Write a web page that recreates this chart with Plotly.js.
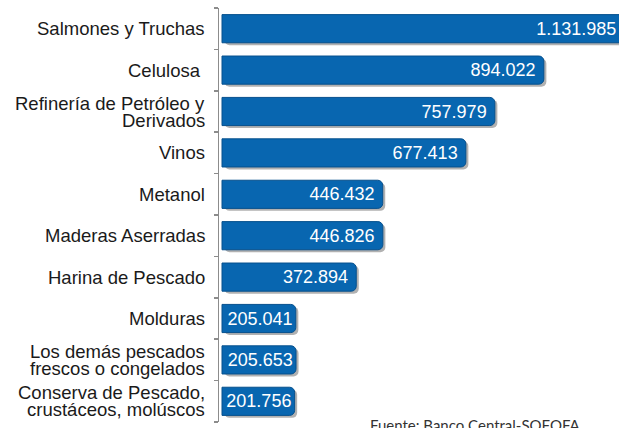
<!DOCTYPE html>
<html>
<head>
<meta charset="utf-8">
<script src="https://cdn.plot.ly/plotly-3.0.1.min.js"></script>
<style>
  html, body { margin: 0; padding: 0; background: #ffffff; overflow: hidden; }
  #chart { width: 619px; height: 428px; }
</style>
</head>
<body>
<div id="chart"></div>
<script>
// ---- Data ----
const categories = [
  "Salmones y Truchas",
  "Celulosa\u00a0",
  "Refinería de Petróleo y<br>Derivados",
  "Vinos",
  "Metanol",
  "Maderas Aserradas",
  "Harina de Pescado",
  "Molduras",
  "Los demás pescados<br>frescos o congelados",
  "Conserva de Pescado,<br>crustáceos, molúscos"
];
const values = [1131985, 894022, 757979, 677413, 446432, 446826, 372894, 205041, 205653, 201756];
const sourceNote = "Fuente: Banco Central-SOFOFA";

// ---- Chart ----
const idx = categories.map((_, i) => i);
const barWidth = 0.68;
const xRange = [-8333, 1102778];

// label padding inside the bar end (bars running past the visible range get a wider pad)
const textTemplates = values.map(v =>
  v > xRange[1] ? '%{x:,d}\u00a0\u00a0' : (v > 300000 ? '%{x:,d}\u00a0' : '%{x:,d}')
);

const shadow = {
  type: 'bar',
  orientation: 'h',
  y: idx,
  x: values,
  base: 7000,
  width: barWidth,
  offset: -barWidth / 2 + 0.06,
  marker: { color: 'rgba(70,70,70,0.42)', cornerradius: 5, line: { width: 0 } },
  hoverinfo: 'skip',
  showlegend: false
};

const bars = {
  type: 'bar',
  orientation: 'h',
  y: idx,
  x: values,
  width: barWidth,
  offset: -barWidth / 2,
  marker: { color: '#0866b0', cornerradius: 5, line: { color: '#06508d', width: 1 } },
  texttemplate: textTemplates,
  textposition: 'inside',
  insidetextanchor: 'end',
  textangle: 0,
  insidetextfont: { family: 'Liberation Sans, Arial, sans-serif', size: 18, color: '#ffffff' },
  constraintext: 'none',
  showlegend: false
};

const annotations = [];
categories.forEach((c, i) => {
  const lines = c.split('<br>');
  const n = lines.length;
  lines.forEach((ln, j) => {
    annotations.push({
      xref: 'paper', yref: 'y',
      x: 0, y: i,
      xanchor: 'right', yanchor: 'middle',
      xshift: -12,
      yshift: ((n - 1) / 2 - j) * 17,
      text: ln,
      showarrow: false,
      align: 'right',
      font: { family: 'Liberation Sans, Arial, sans-serif', size: 18.5, color: '#1a1a1a' }
    });
  });
});
annotations.push({
  xref: 'paper', yref: 'paper',
  x: 0.3775, y: 0,
  xanchor: 'left', yanchor: 'top',
  yshift: 8,
  xshift: -2,
  text: sourceNote,
  showarrow: false,
  font: { family: 'Lato, Open Sans, sans-serif', size: 15, color: '#333333' }
});

const layout = {
  width: 619,
  height: 428,
  margin: { l: 219, r: 0, t: 8, b: 6, pad: 0 },
  paper_bgcolor: '#ffffff',
  plot_bgcolor: '#ffffff',
  separators: ',.',
  barmode: 'overlay',
  showlegend: false,
  xaxis: {
    range: xRange,
    visible: false,
    showgrid: false,
    zeroline: false
  },
  yaxis: {
    type: 'linear',
    range: [9.5, -0.5],
    showgrid: false,
    zeroline: false,
    showline: true,
    linecolor: '#8c8c8c',
    linewidth: 1.5,
    tickmode: 'array',
    tickvals: [-0.5, 0.5, 1.5, 2.5, 3.5, 4.5, 5.5, 6.5, 7.5, 8.5, 9.5],
    ticks: 'outside',
    ticklen: 4,
    tickwidth: 1.5,
    tickcolor: '#8c8c8c',
    showticklabels: false
  },
  annotations: annotations
};

Plotly.newPlot('chart', [shadow, bars], layout, { displayModeBar: false, staticPlot: true });
</script>
</body>
</html>
